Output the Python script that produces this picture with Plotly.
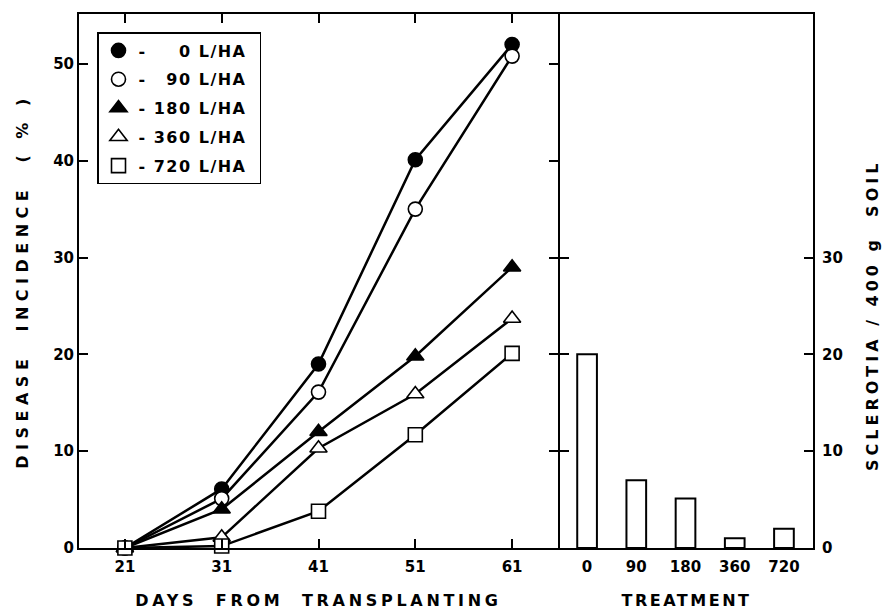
import plotly.graph_objects as go

days = [21, 31, 41, 51, 61]
rate_0 = [0, 6.1, 19.0, 40.1, 52.0]
rate_90 = [0, 5.1, 16.1, 35.0, 50.8]
rate_180 = [0, 4.0, 12.0, 19.8, 29.0]
rate_360 = [0, 1.1, 10.3, 15.9, 23.7]
rate_720 = [0, 0.2, 3.8, 11.7, 20.1]
series_names = ["-\u00a0\u2007\u20070\u00a0L/HA", "-\u00a0\u200790\u00a0L/HA",
                "-\u00a0180\u00a0L/HA", "-\u00a0360\u00a0L/HA", "-\u00a0720\u00a0L/HA"]

treatments = ["0", "90", "180", "360", "720"]
sclerotia = [20.0, 7.0, 5.1, 1.0, 2.0]

x_ticks = [21, 31, 41, 51, 61]
y_ticks_left = [0, 10, 20, 30, 40, 50]
y_ticks_right = [0, 10, 20, 30]

FONT = "DejaVu Sans"
series = [rate_0, rate_90, rate_180, rate_360, rate_720]
symbols = ["circle", "circle", "triangle-up", "triangle-up", "square"]
fills = ["black", "white", "black", "white", "white"]
sizes = [14, 14, 15, 15, 14]

fig = go.Figure()
for i, vals in enumerate(series):
    fig.add_trace(go.Scatter(
        x=days, y=vals, mode="lines+markers", showlegend=False,
        legendgroup=f"g{i}",
        line=dict(color="black", width=2.5),
        marker=dict(symbol=symbols[i], size=sizes[i], color=fills[i],
                    line=dict(color="black", width=1.6)),
        xaxis="x", yaxis="y", cliponaxis=False,
    ))
for i in range(len(series)):
    fig.add_trace(go.Scatter(
        x=[None], y=[None], mode="markers",
        name=series_names[i] + "\u2007\u2007",
        legendgroup=f"g{i}",
        marker=dict(symbol=symbols[i], size=sizes[i], color=fills[i],
                    line=dict(color="black", width=1.6)),
        xaxis="x", yaxis="y",
    ))

fig.add_trace(go.Bar(
    x=list(range(len(treatments))), y=sclerotia, width=0.4,
    marker=dict(color="white", line=dict(color="black", width=2)),
    showlegend=False, xaxis="x2", yaxis="y2",
))

plot_w = 882 - 79 - 69
plot_h = 610 - 14 - 62
split = (558 - 79) / plot_w
split2 = split + 2 / plot_w
axis_common = dict(showline=True, linecolor="black", linewidth=2, mirror="allticks",
                   ticks="inside", tickcolor="black", tickwidth=2, ticklen=9,
                   showgrid=False, zeroline=False, automargin=False,
                   tickfont=dict(family=FONT, size=15, color="black", weight="bold"))
title_font = dict(family=FONT, size=16, weight="bold")

fig.update_layout(
    width=882, height=610,
    margin=dict(l=79, r=69, t=14, b=62, autoexpand=False),
    paper_bgcolor="white", plot_bgcolor="white",
    font=dict(family=FONT, color="black"),
    xaxis=dict(domain=[0, split], range=[16.26, 65.74], tickvals=x_ticks,
               ticktext=[str(v) for v in x_ticks], ticklabelstandoff=4,
               title=dict(text="DAYS  FROM  TRANSPLANTING", standoff=20, font=title_font),
               anchor="y", **axis_common),
    yaxis=dict(range=[0, 55.15], tickvals=y_ticks_left,
               title=dict(text="DISEASE  INCIDENCE  ( % )", standoff=21, font=title_font),
               anchor="x", **axis_common),
    xaxis2=dict(domain=[split2, 1], range=[-0.55, 4.59], tickvals=list(range(len(treatments))),
                ticktext=treatments, ticklabelstandoff=4,
                title=dict(text="TREATMENT", standoff=23, font=title_font),
                anchor="y2",
                **{**axis_common, "ticks": "", "mirror": True}),
    yaxis2=dict(range=[0, 55.15], tickvals=y_ticks_right, side="right", ticklabelstandoff=4,
                anchor="x2", **axis_common),
    annotations=[dict(text="SCLEROTIA / 400 g  SOIL", textangle=-90,
                      xref="paper", yref="paper",
                      x=(872 - 79) / plot_w, y=(548 - 316) / plot_h,
                      xanchor="center", yanchor="middle", showarrow=False,
                      font=title_font)],
    legend=dict(x=(97 - 79) / plot_w, y=(548 - 32) / plot_h, xanchor="left", yanchor="top",
                bgcolor="white", bordercolor="black", borderwidth=1.5,
                font=dict(family=FONT, size=16, color="black", weight="bold"),
                traceorder="grouped", tracegroupgap=5, itemwidth=30),
)

post = """
var s = document.createElement('style');
s.innerHTML = 'body {margin: 0;} .xtitle {letter-spacing: 3.7px;} .x2title {letter-spacing: 2.5px;} .ytitle {letter-spacing: 5.5px;} .annotation-text {letter-spacing: 4px;} .legendtext {letter-spacing: 1.5px;}';
document.head.appendChild(s);
"""
fig.write_html("out.html", post_script=post, config={"displayModeBar": False})
